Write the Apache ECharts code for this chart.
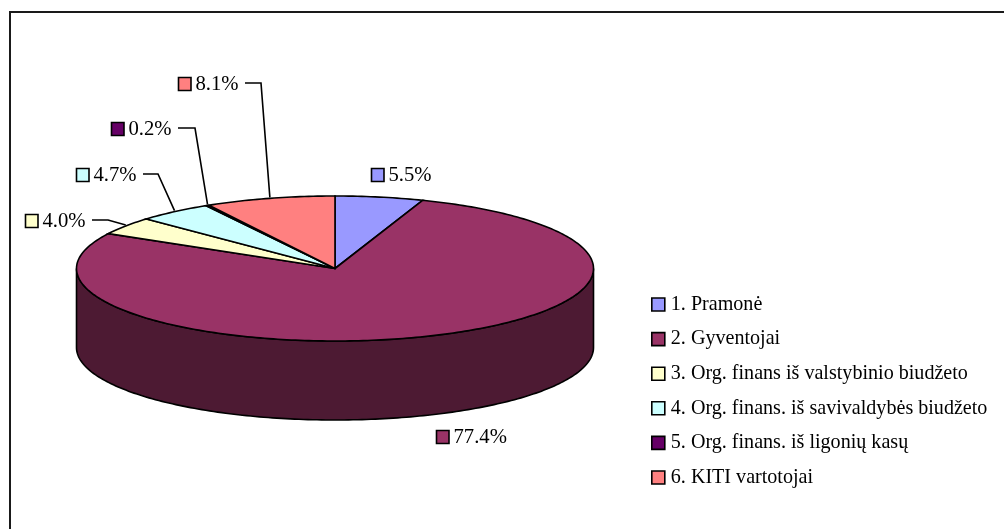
<!DOCTYPE html>
<html>
<head>
<meta charset="utf-8">
<style>
    html, body { margin: 0; padding: 0; background: #fff; }
    #chart { width: 1004px; height: 529px; }
</style>
<script src="https://cdn.jsdelivr.net/npm/echarts@6/dist/echarts.min.js"></script>
</head>
<body>
<div id="chart"></div>
<script>
// duomenys
var categories = ['1. Pramonė', '2. Gyventojai', '3. Org. finans iš valstybinio biudžeto',
    '4. Org. finans. iš savivaldybės biudžeto', '5. Org. finans. iš ligonių kasų', '6. KITI vartotojai'];
var shares = [5.5, 77.4, 4.0, 4.7, 0.2, 8.1];

// isvaizda
var colors = ['#9999FF', '#993366', '#FFFFCC', '#CCFFFF', '#660066', '#FF8080'];
var sideColors = ['#4D4D80', '#4D1A33', '#808066', '#668080', '#330033', '#804040'];
var fontName = '"Liberation Serif", "Times New Roman", serif';
var pie = { cx: 335, cy: 268.5, rx: 258.5, ry: 72.5, depth: 79 };
// label box: left of the swatch, middle y, start of the leader, x of the leader elbow
var labelBoxes = [
    { x: 371, y: 176 },
    { x: 436, y: 438 },
    { x: 25, y: 222, lineFrom: 92, elbow: 108 },
    { x: 76, y: 176, lineFrom: 143, elbow: 158 },
    { x: 111, y: 130, lineFrom: 178, elbow: 195 },
    { x: 178, y: 85, lineFrom: 245, elbow: 261 }
];

var total = 0;
shares.forEach(function (v) { total += v; });

function startShare(index) {
    var sum = 0;
    for (var i = 0; i < index; i++) {
        sum += shares[i];
    }
    return sum;
}

// kampas skaiciuojamas nuo virsaus pagal laikrodzio rodykle
function rimPoint(deg, drop) {
    var rad = deg * Math.PI / 180;
    return [pie.cx + pie.rx * Math.sin(rad), pie.cy - pie.ry * Math.cos(rad) + (drop || 0)];
}

function arcPoints(from, to, drop) {
    var pts = [];
    var steps = Math.max(1, Math.ceil(Math.abs(to - from)));
    for (var i = 0; i <= steps; i++) {
        pts.push(rimPoint(from + (to - from) * i / steps, drop));
    }
    return pts;
}

function renderSlice(params, api) {
    var index = params.seriesIndex;
    var value = api.value(0);
    var a0 = startShare(index) / total * 360;
    var a1 = a0 + value / total * 360;
    var children = [];
    var line = { stroke: '#000', lineWidth: 1.6 };

    // sonine dalis matoma tik apatineje puseje
    var sideFrom = Math.max(a0, 90);
    var sideTo = Math.min(a1, 270);
    if (sideTo > sideFrom) {
        var side = arcPoints(sideFrom, sideTo, 0).concat(arcPoints(sideTo, sideFrom, pie.depth));
        children.push({
            type: 'polygon',
            shape: { points: side },
            style: { fill: sideColors[index], stroke: line.stroke, lineWidth: line.lineWidth }
        });
    }

    children.push({
        type: 'polygon',
        shape: { points: [[pie.cx, pie.cy]].concat(arcPoints(a0, a1, 0)) },
        style: { fill: colors[index], stroke: line.stroke, lineWidth: line.lineWidth }
    });

    var box = labelBoxes[index];
    children.push({
        type: 'rect',
        shape: { x: box.x + 0.5, y: box.y - 7.5, width: 12.5, height: 13 },
        style: { fill: colors[index], stroke: '#000', lineWidth: 1.6 }
    });
    children.push({
        type: 'text',
        style: {
            x: box.x + 17.5,
            y: box.y,
            text: value.toFixed(1) + '%',
            fill: '#000',
            font: '20.7px ' + fontName,
            align: 'left',
            verticalAlign: 'middle'
        }
    });
    if (box.lineFrom) {
        var tip = rimPoint((a0 + a1) / 2, -1);
        children.push({
            type: 'polyline',
            shape: { points: [[box.lineFrom, box.y - 2], [box.elbow, box.y - 2], tip] },
            style: { fill: 'none', stroke: '#000', lineWidth: 1.6 }
        });
    }
    return { type: 'group', children: children };
}

var box = echarts.init(document.getElementById('chart'));
var option = {
    animation: false,
    backgroundColor: '#fff',
    graphic: [
        {
            type: 'polyline',
            shape: { points: [[10, 529], [10, 12], [1004, 12]] },
            style: { fill: 'none', stroke: '#1a1a1a', lineWidth: 2 }
        }
    ],
    legend: {
        orient: 'vertical',
        left: 646,
        top: 288,
        itemWidth: 13,
        itemHeight: 13,
        itemGap: 11.6,
        itemStyle: { borderColor: '#000', borderWidth: 1.6 },
        selectedMode: false,
        textStyle: {
            color: '#000',
            fontFamily: fontName,
            fontSize: 20.1,
            lineHeight: 23,
            padding: [0, 0, 0, 1]
        },
        data: categories.map(function (name) { return { name: name, icon: 'rect' }; })
    },
    series: categories.map(function (name, i) {
        return {
            type: 'custom',
            name: name,
            coordinateSystem: 'none',
            silent: true,
            itemStyle: { color: colors[i] },
            renderItem: renderSlice,
            data: [[shares[i]]]
        };
    })
};
box.setOption(option);
</script>
</body>
</html>
